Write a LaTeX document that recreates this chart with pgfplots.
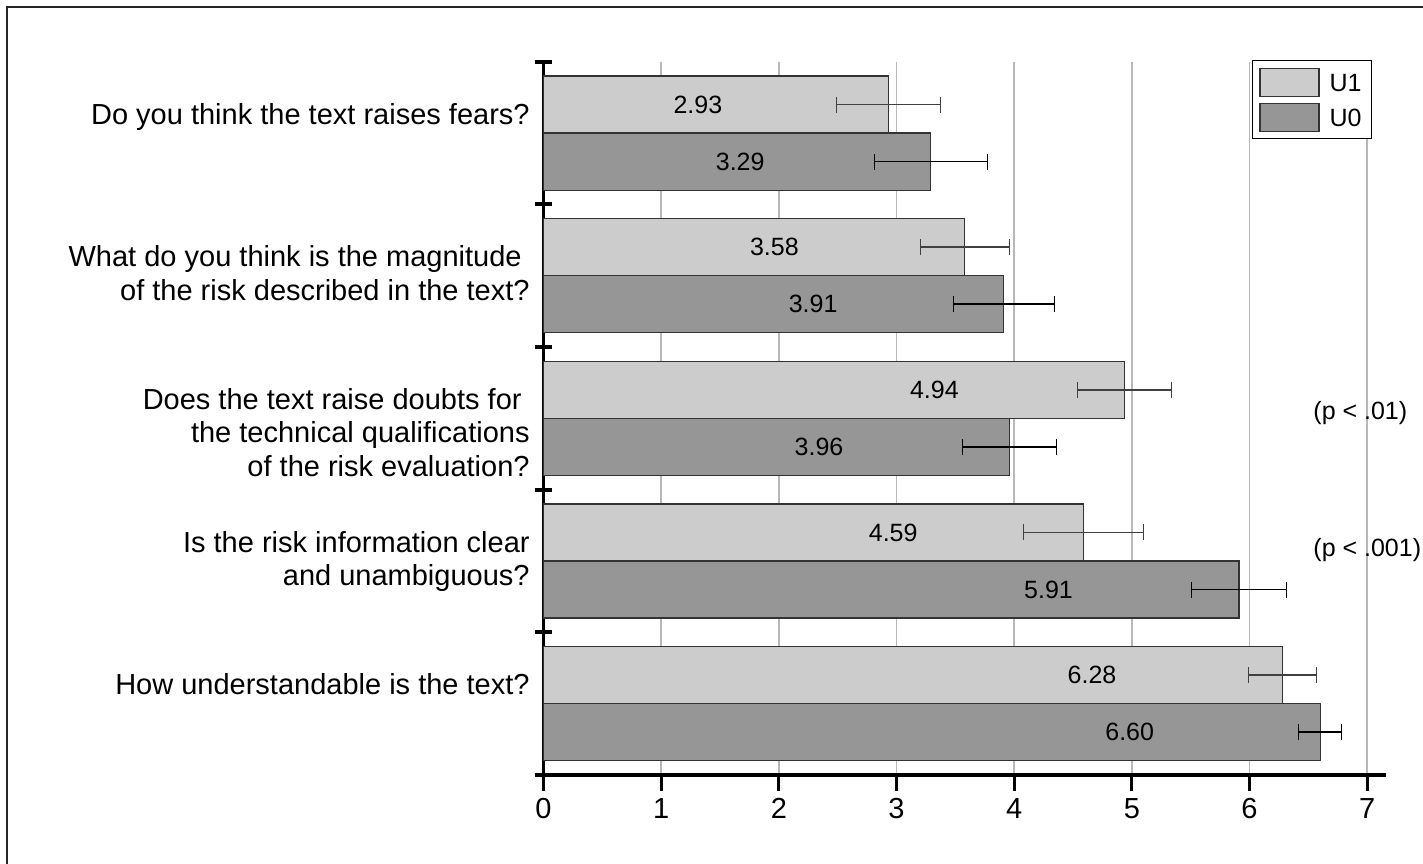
\documentclass[border=0pt]{standalone}
\usepackage{pgfplots}
\pgfplotsset{compat=1.18}
\usepackage{fontspec}
\setmainfont{Liberation Sans}
\definecolor{barlight}{HTML}{CCCCCC}
\definecolor{bardark}{HTML}{969696}
\definecolor{gridgray}{HTML}{B8B8B8}
% right-aligned question text, baseline on its first line
\newcommand{\qlab}[1]{\begin{tabular}[t]{@{}r@{}}#1\end{tabular}}
\begin{document}
\begin{tikzpicture}
\useasboundingbox (-271.75pt,-44pt) rectangle (439.75pt,387.5pt);
\draw[line width=0.65pt, black!85] (-268.25pt,-50pt) -- (-268.25pt,384pt) -- (445pt,384pt);
\begin{axis}[
  at={(0pt,0pt)}, anchor=south west,
  scale only axis,
  width=421.25pt, height=356.65pt,
  xmin=0, xmax=7.16,
  ymin=0.5, ymax=5.5,
  axis lines*=left,
  x axis line style={line width=2pt},
  y axis line style={line width=1.8pt},
  tick align=outside,
  major tick length=8pt,
  xtick={0,...,7},
  ytick=\empty,
  % group separators on the category axis
  extra y ticks={0.5,1.5,...,5.5},
  extra y tick labels={},
  extra y tick style={tick align=center, major tick length=8.5pt,
    tick style={line width=2pt, black}},
  xtick style={line width=1.6pt, black},
  xmajorgrids,
  grid style={gridgray, line width=0.7pt},
  ticklabel style={font=\fontsize{14.5}{17}\selectfont},
  /pgf/number format/assume math mode=true,
  xbar, bar width=0.4, bar shift=0pt,
  point meta=x,
  nodes near coords={\pgfmathprintnumber[fixed,fixed zerofill,precision=2,assume math mode=true]{\pgfplotspointmeta}},
  every node near coord/.append style={font=\fontsize{12.5}{15}\selectfont, text=black, inner sep=0pt, text width=30pt, align=center, xshift=-110.5pt},
  clip=false,
  legend style={at={(0.8406,1.002)}, anchor=north west, draw=black, line width=0.6pt,
    fill=white, inner xsep=3.5pt, inner ysep=3.5pt, row sep=2.8pt, column sep=3.5pt,
    font=\fontsize{12.5}{15}\selectfont, nodes={inner sep=1.5pt, text depth=0pt}},
  legend image code/.code={\draw[#1] (0pt,-7pt) rectangle (29.5pt,7pt);},
]
% U1 group (upper bar of each pair)
\addplot[fill=barlight, draw=black!80, line width=0.6pt,
  error bars/.cd, x dir=both, x explicit,
  error bar style={line width=0.8pt, black!75, mark size=4pt}]
coordinates {
  (2.93,5.2) +- (0.44,0)
  (3.58,4.2) +- (0.38,0)
  (4.94,3.2) +- (0.40,0)
  (4.59,2.2) +- (0.51,0)
  (6.28,1.2) +- (0.29,0)
};
\addlegendentry{U1}
% U0 group (lower bar of each pair)
\addplot[fill=bardark, draw=black!80, line width=0.6pt,
  error bars/.cd, x dir=both, x explicit,
  error bar style={line width=0.8pt, black, mark size=4pt}]
coordinates {
  (3.29,4.8) +- (0.48,0)
  (3.91,3.8) +- (0.43,0)
  (3.96,2.8) +- (0.40,0)
  (5.91,1.8) +- (0.40,0)
  (6.60,0.8) +- (0.185,0)
};
\addlegendentry{U0}
% question texts
\begin{scope}[every node/.style={anchor=base east, inner sep=0pt, xshift=-6.75pt, yshift=4.5pt, font=\fontsize{14.5}{16.75}\selectfont}]
\node at (axis cs:0,5) {\qlab{Do you think the text raises fears?}};
\node at (axis cs:0,4) {\qlab{What do you think is the magnitude\kern4pt\\of the risk described in the text?}};
\node at (axis cs:0,3) {\qlab{Does the text raise doubts for\kern4pt\\the technical qualifications\\of the risk evaluation?}};
\node at (axis cs:0,2) {\qlab{Is the risk information clear\\and unambiguous?}};
\node at (axis cs:0,1) {\qlab{How understandable is the text?}};
\end{scope}
% significance notes
\node[anchor=west, inner sep=0pt, font=\fontsize{12.5}{15}\selectfont] at (axis cs:6.54,3.038) {(p < .01)};
\node[anchor=west, inner sep=0pt, font=\fontsize{12.5}{15}\selectfont] at (axis cs:6.54,2.077) {(p < .001)};
\end{axis}
\end{tikzpicture}
\end{document}
